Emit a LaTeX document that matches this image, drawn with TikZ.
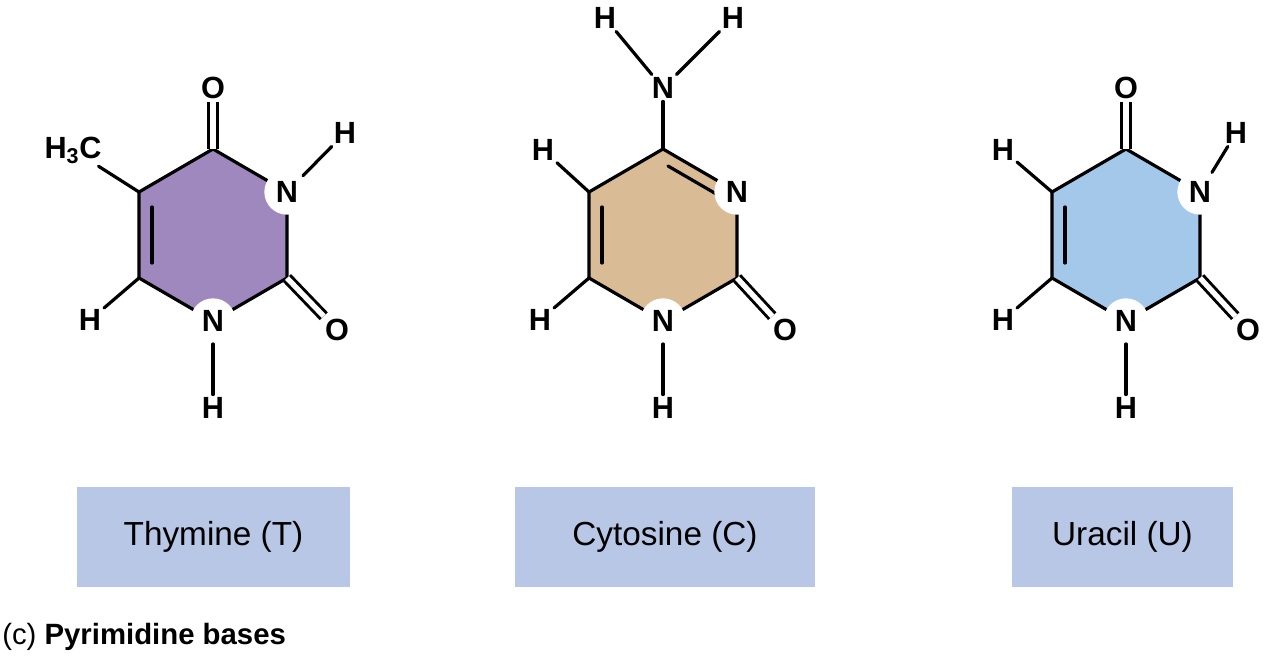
\documentclass[tikz,border=0pt]{standalone}
\usepackage{fontspec}
\setmainfont{Liberation Sans}
\begin{document}
\begin{tikzpicture}[x=0.75pt,y=-0.75pt,
 bond/.style={line width=2.4pt,line join=round,line cap=round},
 dbl/.style={line width=2.2pt,double=white,double distance=4pt},
 atom/.style={font=\fontsize{23}{23}\selectfont\bfseries,inner sep=2pt},
 nat/.style={circle,fill=white,font=\fontsize{23}{23}\selectfont\bfseries,inner sep=0pt,minimum size=34pt},
 lbox/.style={fill=lb,minimum height=75pt,font=\fontsize{25}{25}\selectfont,inner sep=0pt}]
\definecolor{tc}{HTML}{9E88BE}\definecolor{cc}{HTML}{D9BC96}\definecolor{uc}{HTML}{A3C8EA}\definecolor{lb}{HTML}{B8C7E6}
\useasboundingbox (0,0) rectangle (1278,659);
% Thymine
\begin{scope}[shift={(213,235)}]
\coordinate (t1) at (0,-86);\coordinate (t2) at (74,-43);\coordinate (t3) at (74,43);
\coordinate (t4) at (0,86);\coordinate (t5) at (-74,43);\coordinate (t6) at (-74,-43);
\filldraw[bond,fill=tc] (t1)--(t2)--(t3)--(t4)--(t5)--(t6)--cycle;
\draw[bond] (-61,-28)--(-61,28);
\node[nat] (tN3) at (t2) {N}; \node[nat] (tN1) at (t4) {N};
\node[atom] (tO4) at (0,-147) {O}; \node[atom] (tO2) at (124,95) {O};
\node[atom] (tH3) at (132,-102) {H}; \node[atom] (tH1) at (0,173) {H};
\node[atom] (tH6) at (-123,85) {H}; \node[atom] (tMe) at (-140,-85) {H$_\mathbf{3}$C};
\draw[dbl] (t1)--(tO4); \draw[dbl] (t3)--(tO2);
\draw[bond] (tN3)--(tH3); \draw[bond] (tN1)--(tH1); \draw[bond] (t5)--(tH6); \draw[bond] (t6)--(tMe);
\end{scope}
% Cytosine
\begin{scope}[shift={(663,235)}]
\coordinate (c1) at (0,-86);\coordinate (c2) at (74,-43);\coordinate (c3) at (74,43);
\coordinate (c4) at (0,86);\coordinate (c5) at (-74,43);\coordinate (c6) at (-74,-43);
\filldraw[bond,fill=cc] (c1)--(c2)--(c3)--(c4)--(c5)--(c6)--cycle;
\draw[bond] (-61,-28)--(-61,28); \draw[bond] (5,-69)--(55,-40);
\node[nat] (cN3) at (c2) {N}; \node[nat] (cN1) at (c4) {N};
\node[atom] (cN4) at (0,-147) {N}; \node[atom] (cO2) at (122,95) {O};
\node[atom] (cHa) at (-58,-217) {H}; \node[atom] (cHb) at (70,-217) {H};
\node[atom] (cH5) at (-120,-85) {H}; \node[atom] (cH6) at (-123,85) {H}; \node[atom] (cH1) at (0,173) {H};
\draw[bond] (c1)--(cN4); \draw[dbl] (c3)--(cO2);
\draw[bond] (cN4)--(cHa); \draw[bond] (cN4)--(cHb); \draw[bond] (c6)--(cH5); \draw[bond] (c5)--(cH6); \draw[bond] (cN1)--(cH1);
\end{scope}
% Uracil
\begin{scope}[shift={(1126,235)}]
\coordinate (u1) at (0,-86);\coordinate (u2) at (74,-43);\coordinate (u3) at (74,43);
\coordinate (u4) at (0,86);\coordinate (u5) at (-74,43);\coordinate (u6) at (-74,-43);
\filldraw[bond,fill=uc] (u1)--(u2)--(u3)--(u4)--(u5)--(u6)--cycle;
\draw[bond] (-61,-28)--(-61,28);
\node[nat] (uN3) at (u2) {N}; \node[nat] (uN1) at (u4) {N};
\node[atom] (uO4) at (0,-147) {O}; \node[atom] (uO2) at (122,95) {O};
\node[atom] (uH3) at (110,-102) {H}; \node[atom] (uH1) at (0,173) {H};
\node[atom] (uH6) at (-123,85) {H}; \node[atom] (uH5) at (-123,-85) {H};
\draw[dbl] (u1)--(uO4); \draw[dbl] (u3)--(uO2);
\draw[bond] (uN3)--(uH3); \draw[bond] (uN1)--(uH1); \draw[bond] (u5)--(uH6); \draw[bond] (u6)--(uH5);
\end{scope}
\node[lbox,minimum width=205pt] (lt) at (213.5,537) {Thymine (T)};
\node[lbox,minimum width=225pt] (lc) at (665,537) {Cytosine (C)};
\node[lbox,minimum width=166pt] (lu) at (1122.5,537) {Uracil (U)};
\node[anchor=west,font=\fontsize{22}{22}\selectfont,inner sep=0pt] (cap) at (2,637) {(c)\ \textbf{Pyrimidine bases}};
\end{tikzpicture}
\end{document}
